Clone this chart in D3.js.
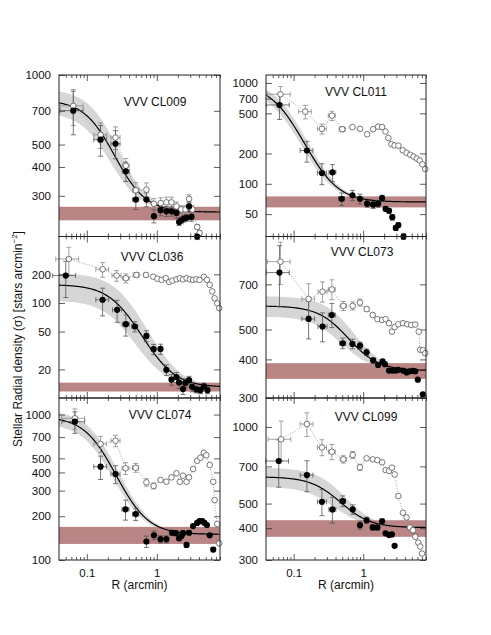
<!DOCTYPE html>
<html><head><meta charset="utf-8">
<script src="https://cdn.jsdelivr.net/npm/d3@7"></script>
<style>body{margin:0;background:#fff}svg{display:block}text{font-family:"Liberation Sans",Arial,Helvetica,sans-serif;fill:#111}</style>
</head><body>
<svg id="c" width="491" height="635"></svg>
<script>
// ---------- data ----------
const panelNames = ["VVV CL009","VVV CL011","VVV CL036","VVV CL073","VVV CL074","VVV CL099"];
const xDomain = [0.04, 8];
const xTickLabels = [0.1, 1];
const xMinorTicks = [0.05,0.06,0.07,0.08,0.09,0.2,0.3,0.4,0.5,0.6,0.7,0.8,0.9,2,3,4,5,6,7,8];
const yDomains = [[200,1000],[30,1200],[10,500],[300,1000],[100,1300],[300,1300]];
const yTickLabels = [[300,400,500,700,1000],[50,100,200,500,700,1000],[20,50,100,200],[300,400,500,700],[100,200,300,400,500,700,1000],[300,400,500,700,1000]];

// King fit parameters (background, central density, core radius) and uncertainties
const fitBg = [255, 66, 13, 368, 150, 402];
const fitS0 = [525, 900, 143, 228, 820, 235];
const fitRc = [0.19, 0.073, 0.33, 0.54, 0.165, 0.42];
const fitS0Err = [90, 100, 50, 45, 100, 55];
const fitRcErr = [0.02, 0.005, 0.04, 0.1, 0.01, 0.07];
const bgLo = [235, 58.3, 11.7, 346, 129, 370];
const bgHi = [269, 75, 14.5, 389, 169, 430];

// radial bin half-width ratios (first bins)
const xErrRatioLo = [0.65, 0.8, 0.86, 0.89, 0.9];
const xErrRatioHi = [1.38, 1.22, 1.16, 1.12, 1.1];

// CL009
const cl009R = [0.064,0.157,0.257,0.361,0.501,0.71,0.91,1.13,1.37,1.63,1.91,2.08,2.24,2.44,2.66,2.89,3.13,3.77];
const cl009Val = [701,525,504,383,289,289,245,260,257,257,253,231,235,239,241,270,243,200];
const cl009Err = [150,80,70,37,27,20,16,14,13,12,12,8,8,8,8,12,10,6];
const cl009OpenR = [0.064,0.157,0.257,0.361,0.501,0.71,0.91,1.14,1.37,1.62,1.91,2.24,2.57,2.89,3.21,3.78,4.08];
const cl009OpenVal = [735,551,536,405,317,319,277,279,281,281,270,262,262,291,262,220,207];
const cl009OpenErr = [130,70,60,30,25,22,15,15,15,15,12,10,10,12,10,5,5];
// CL011
const cl011R = [0.0625,0.155,0.255,0.361,0.49,0.70,0.898,1.14,1.39,1.64,1.87,2.1,2.35,2.62,2.94,3.2,3.8];
const cl011Val = [605,214,128,130,71,77,71,63.5,62,63.5,72,56.4,54,46.6,36.5,39,30];
const cl011Err = [170,50,30,25,10,9,8,5,5,5,5,3,3,3,2,2,2];
const cl011OpenR = [0.0645,0.147,0.255,0.354,0.50,0.70,0.9,1.14,1.39,1.64,1.87,2.09,2.3,2.55,2.83,3.2,3.7,4.2,4.75,5.3,5.9,6.5,7.1,7.8];
const cl011OpenVal = [773,520,351,474,348,365,351,310,348,369,365,330,284,247,240,239,215,203,194,186,178,170,156,140];
const cl011OpenErr = [150,80,40,50,20,15,12,8,8,8,8,6,5,5,5,5,4,4,4,4,4,4,4,4];
// CL036
const cl036R = [0.05,0.168,0.271,0.361,0.485,0.71,0.9,1.13,1.37,1.62,1.91,2.08,2.37,2.56,2.89,3.2,3.67,4.2,4.7,5.3];
const cl036Val = [194,108,84.6,59.8,56.5,45,32.6,32.8,19.8,15.6,16.6,14.6,12.4,14.4,15.4,13.1,12.3,12.1,13.3,12.1];
const cl036Err = [80,35,22,15,7,6,4,4,2.5,2,2,2,1.5,1.5,1.5,1.5,1,1,1,1];
const cl036OpenR = [0.0553,0.168,0.266,0.361,0.51,0.70,0.89,1.02,1.17,1.34,1.5,1.67,1.91,2.13,2.37,2.66,2.97,3.3,3.67,4.08,4.7,5.2,5.7,6.2,6.7,7.3,7.8];
const cl036OpenVal = [290,226,194,182,197,197,189,180,175,182,166,172,177,182,177,182,177,175,177,175,189,175,155,132,112,99,88];
const cl036OpenErr = [95,40,25,20,12,10,6,5,5,5,5,5,5,5,5,5,5,5,5,5,5,5,4,4,4,3,3];
// CL073
const cl073R = [0.0625,0.164,0.26,0.354,0.508,0.70,0.9,1.12,1.39,1.64,1.9,2.05,2.35,2.62,2.94,3.2,3.73,4.2,4.65,5.2,5.6,6.1,7.2];
const cl073Val = [764,541,511,557,451,449,443,422,397,384,394,386,368,368,368,370,368,363,366,367,366,344,308];
const cl073Err = [170,75,55,50,18,16,12,10,8,6,6,5,4,4,4,4,4,4,4,4,4,4,4];
const cl073OpenR = [0.0645,0.164,0.26,0.354,0.518,0.706,0.898,1.12,1.37,1.6,1.87,2.1,2.35,2.59,2.83,3.2,3.73,4.3,4.9,5.6,6.3,6.6,7.2,7.8];
const cl073OpenVal = [829,628,663,674,596,596,611,582,557,540,537,540,524,492,509,520,524,520,517,519,492,430,428,419];
const cl073OpenErr = [130,75,50,50,20,18,16,10,8,8,8,8,6,6,6,6,6,6,6,6,6,6,6,6];
// CL074
const cl074R = [0.0674,0.157,0.257,0.357,0.5,0.71,0.91,1.13,1.37,1.65,1.86,2.08,2.25,2.37,2.66,2.89,3.3,3.77,4.08,4.47,4.8,5.2,5.7,6.4];
const cl074Val = [893,438,390,223,207,134,148,139,139,154,153,141,146,153,127,154,171,180,185,185,180,174,148,118];
const cl074Err = [150,80,55,35,20,12,10,8,8,6,6,5,5,5,5,5,4,4,4,4,4,4,4,4];
const cl074OpenR = [0.0674,0.157,0.257,0.357,0.5,0.71,0.9,1.13,1.37,1.62,1.91,2.13,2.37,2.66,2.88,3.3,3.77,4.2,4.7,5.1,5.7,6.4,6.7,7.3,7.8];
const cl074OpenVal = [943,628,661,427,431,342,323,355,345,370,395,345,380,345,370,422,481,505,547,525,450,345,258,177,130];
const cl074OpenErr = [150,80,60,40,30,20,15,10,10,10,10,8,8,8,8,8,8,8,8,8,8,6,5,4,3];
// CL099
const cl099R = [0.061,0.155,0.255,0.361,0.508,0.706,0.898,1.12,1.37,1.6,1.87,2.1,2.35,2.59,2.83];
const cl099Val = [735,647,508,474,511,474,411,430,403,403,426,382,376,378,341];
const cl099Err = [155,90,60,55,25,20,15,12,10,10,10,6,6,6,6];
const cl099OpenR = [0.066,0.155,0.255,0.354,0.518,0.706,0.898,1.12,1.37,1.6,1.87,2.1,2.35,2.59,2.83,3.2,3.73,4.2,4.7,5.2,5.6,6.2,6.6,7.0];
const cl099OpenVal = [895,1027,831,799,746,776,694,753,746,741,726,677,672,692,651,535,460,441,403,393,370,351,339,318];
const cl099OpenErr = [160,110,60,55,25,25,20,12,10,10,10,8,8,8,8,6,6,5,5,5,5,5,5,5];

const filledR = [cl009R, cl011R, cl036R, cl073R, cl074R, cl099R];
const filledV = [cl009Val, cl011Val, cl036Val, cl073Val, cl074Val, cl099Val];
const filledE = [cl009Err, cl011Err, cl036Err, cl073Err, cl074Err, cl099Err];
const openR = [cl009OpenR, cl011OpenR, cl036OpenR, cl073OpenR, cl074OpenR, cl099OpenR];
const openV = [cl009OpenVal, cl011OpenVal, cl036OpenVal, cl073OpenVal, cl074OpenVal, cl099OpenVal];
const openE = [cl009OpenErr, cl011OpenErr, cl036OpenErr, cl073OpenErr, cl074OpenErr, cl099OpenErr];

// ---------- layout ----------
const cols = [[59,220],[266,426]];
const rows = [[75,236.5],[236.5,398],[398,560]];
const svg = d3.select("#c");
const defs = svg.append("defs");

function king(bg, s0, rc){ return r => bg + s0/(1+(r/rc)*(r/rc)); }

panelNames.forEach((name, i) => {
  const [x0,x1] = cols[i%2];
  const [y0,y1] = rows[Math.floor(i/2)];
  const x = d3.scaleLog().domain(xDomain).range([x0,x1]);
  const y = d3.scaleLog().domain(yDomains[i]).range([y1,y0]);
  const g = svg.append("g");
  defs.append("clipPath").attr("id","cp"+i).append("rect")
    .attr("x",x0).attr("y",y0).attr("width",x1-x0).attr("height",y1-y0);
  const inner = g.append("g").attr("clip-path","url(#cp"+i+")");

  // model sample radii along the log axis
  const rs = d3.range(0,201).map(k => xDomain[0]*Math.pow(xDomain[1]/xDomain[0], k/200));
  const fMain = king(fitBg[i], fitS0[i], fitRc[i]);
  const fUp = king(fitBg[i], fitS0[i]+fitS0Err[i], fitRc[i]+fitRcErr[i]);
  const fLo = king(fitBg[i], fitS0[i]-fitS0Err[i], fitRc[i]-fitRcErr[i]);

  inner.append("path").datum(rs)
    .attr("d", d3.area().x(r=>x(r)).y0(r=>y(fLo(r))).y1(r=>y(fUp(r))).curve(d3.curveLinear))
    .attr("fill","#d6d6d6");
  inner.append("rect").attr("x",x0).attr("width",x1-x0)
    .attr("y",y(bgHi[i])).attr("height",y(bgLo[i])-y(bgHi[i]))
    .attr("fill","#b98585");
  inner.append("path").datum(rs)
    .attr("d", d3.line().x(r=>x(r)).y(r=>y(fMain(r))))
    .attr("fill","none").attr("stroke","#000").attr("stroke-width",1.2);

  // axes: major ticks inward on all sides
  const bottom = d3.axisBottom(x).tickValues(xTickLabels).tickSizeInner(-6).tickSizeOuter(0).tickPadding(9)
    .tickFormat(i>=4 ? d3.format("") : ()=>"");
  const bottomMinor = d3.axisBottom(x).tickValues(xMinorTicks).tickSizeInner(-3).tickSizeOuter(0).tickFormat(()=> "");
  const top = d3.axisTop(x).tickValues(xTickLabels).tickSizeInner(-6).tickSizeOuter(0).tickFormat(()=> "");
  const topMinor = d3.axisTop(x).tickValues(xMinorTicks).tickSizeInner(-3).tickSizeOuter(0).tickFormat(()=> "");
  const left = d3.axisLeft(y).tickValues(yTickLabels[i]).tickSizeInner(-6).tickSizeOuter(0).tickPadding(8).tickFormat(d3.format(""));
  const right = d3.axisRight(y).tickValues(yTickLabels[i]).tickSizeInner(-6).tickSizeOuter(0).tickFormat(()=> "");
  [[bottom,`translate(0,${y1})`],[bottomMinor,`translate(0,${y1})`],[top,`translate(0,${y0})`],[topMinor,`translate(0,${y0})`],
   [left,`translate(${x0},0)`],[right,`translate(${x1},0)`]].forEach(([ax,tr])=>{
    const a = g.append("g").attr("transform",tr).call(ax);
    a.select(".domain").remove();
    a.selectAll("line").attr("stroke","#333").attr("stroke-width",0.8);
    a.selectAll("text").attr("font-size",11.5).attr("fill","#111")
      .attr("font-family","'Liberation Sans',Arial,sans-serif");
  });

  // open series: dotted connecting line, error bars, markers
  const od = openR[i].map((r,k)=>({r, v:openV[i][k], e:openE[i][k], k}));
  const fd = filledR[i].map((r,k)=>({r, v:filledV[i][k], e:filledE[i][k], k}));
  g.append("path").datum(od)
    .attr("d", d3.line().x(d=>x(d.r)).y(d=>y(d.v)))
    .attr("fill","none").attr("stroke","#8a8a8a").attr("stroke-width",0.8).attr("stroke-dasharray","1,1.6");

  function errBars(data, color){
    const eg = g.append("g").attr("stroke",color).attr("stroke-width",0.8).attr("fill","none");
    data.forEach(d=>{
      const cx = x(d.r), yt = y(d.v+d.e), yb = y(Math.max(d.v-d.e, 1e-3));
      if (yb - yt > 4) {
        eg.append("line").attr("x1",cx).attr("x2",cx).attr("y1",yt).attr("y2",yb);
        eg.append("line").attr("x1",cx-2.5).attr("x2",cx+2.5).attr("y1",yt).attr("y2",yt);
        eg.append("line").attr("x1",cx-2.5).attr("x2",cx+2.5).attr("y1",yb).attr("y2",yb);
      }
      if (d.k < xErrRatioLo.length) {
        const xl = x(d.r*xErrRatioLo[d.k]), xh = x(d.r*xErrRatioHi[d.k]), cy = y(d.v);
        eg.append("line").attr("x1",xl).attr("x2",xh).attr("y1",cy).attr("y2",cy);
        eg.append("line").attr("x1",xl).attr("x2",xl).attr("y1",cy-2.5).attr("y2",cy+2.5);
        eg.append("line").attr("x1",xh).attr("x2",xh).attr("y1",cy-2.5).attr("y2",cy+2.5);
      }
    });
  }
  errBars(od, "#8c8c8c");
  errBars(fd, "#555");

  g.append("g").selectAll("circle").data(od).join("circle")
    .attr("cx",d=>x(d.r)).attr("cy",d=>y(d.v)).attr("r",2.8)
    .attr("fill","#fff").attr("stroke","#555").attr("stroke-width",0.8);
  g.append("g").selectAll("circle").data(fd).join("circle")
    .attr("cx",d=>x(d.r)).attr("cy",d=>y(d.v)).attr("r",3.1)
    .attr("fill","#000");

  // frame
  g.append("rect").attr("x",x0).attr("y",y0).attr("width",x1-x0).attr("height",y1-y0)
    .attr("fill","none").attr("stroke","#222").attr("stroke-width",1);
});

// titles
const titlePos = [[155,106],[356,96],[152,261],[362,256],[160,419],[366,421]];
panelNames.forEach((n,i)=>{
  svg.append("text").attr("x",titlePos[i][0]).attr("y",titlePos[i][1])
    .attr("text-anchor","middle").attr("font-size",12).text(n);
});

// axis titles
[0,1].forEach(c=>{
  svg.append("text").attr("x",(cols[c][0]+cols[c][1])/2).attr("y",589)
    .attr("text-anchor","middle").attr("font-size",12).text("R (arcmin)");
});
const yl = svg.append("text").attr("transform","translate(22,339) rotate(-90)")
  .attr("text-anchor","middle").attr("font-size",12);
yl.append("tspan").text("Stellar Radial density (σ) [stars arcmin");
yl.append("tspan").attr("dy",-5).attr("font-size",8).text("−2");
yl.append("tspan").attr("dy",5).text("]");
</script>
</body></html>
